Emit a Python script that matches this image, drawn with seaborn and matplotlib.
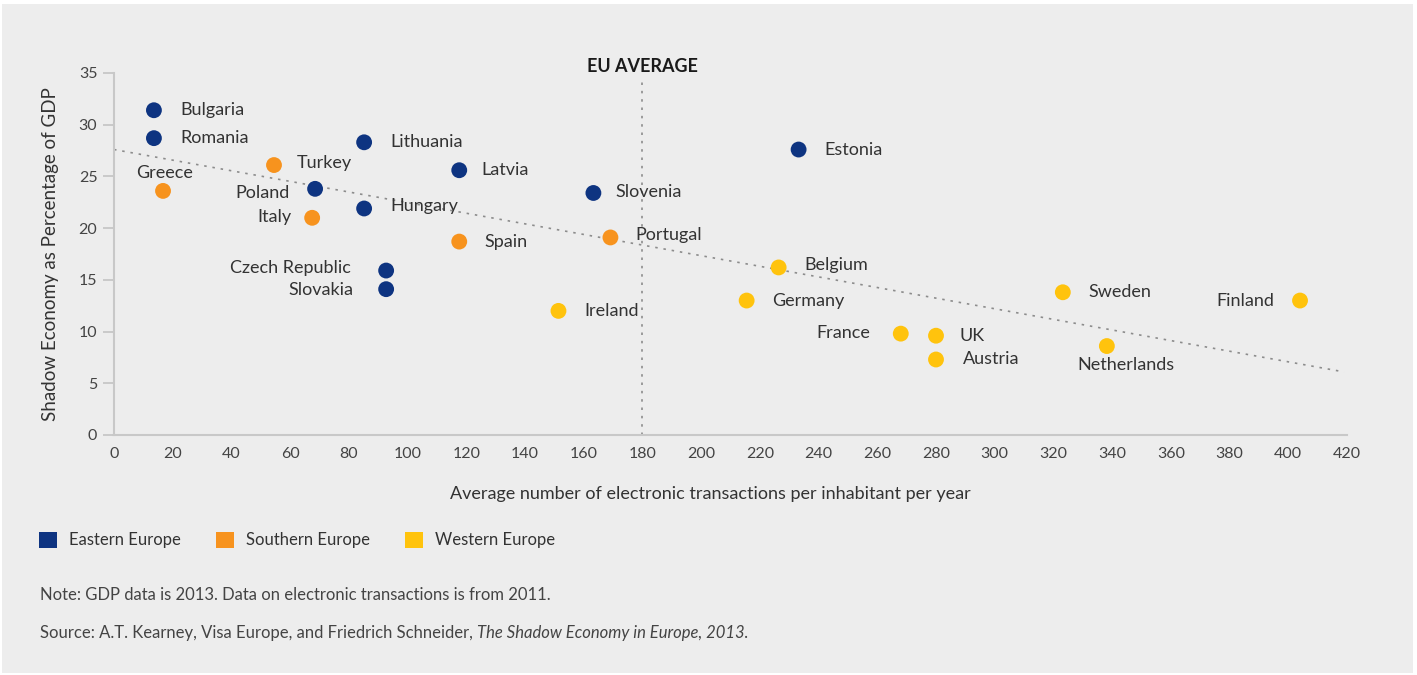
import numpy as np
import pandas as pd
import matplotlib
matplotlib.use("Agg")
import matplotlib.pyplot as plt
from matplotlib.patches import Patch, Rectangle
import seaborn as sns

# data
countries = ["Bulgaria", "Romania", "Greece", "Turkey", "Poland", "Italy",
             "Lithuania", "Hungary", "Latvia", "Spain", "Czech Republic",
             "Slovakia", "Slovenia", "Portugal", "Ireland", "Estonia",
             "Belgium", "Germany", "France", "UK", "Austria", "Sweden",
             "Netherlands", "Finland"]
transactions = [13.6, 13.6, 16.7, 54.5, 68.5, 67.5,
                85.2, 85.2, 117.6, 117.6, 92.7,
                92.7, 163.3, 169.1, 151.4, 233.2,
                226.4, 215.5, 268.0, 280.0, 280.0, 323.2,
                338.2, 404.0]
shadow_gdp = [31.4, 28.7, 23.6, 26.1, 23.8, 21.0,
              28.3, 21.9, 25.6, 18.7, 15.9,
              14.1, 23.4, 19.1, 12.0, 27.6,
              16.2, 13.0, 9.8, 9.6, 7.3, 13.8,
              8.6, 13.0]
regions = ["Eastern Europe", "Eastern Europe", "Southern Europe", "Southern Europe",
           "Eastern Europe", "Southern Europe", "Eastern Europe", "Eastern Europe",
           "Eastern Europe", "Southern Europe", "Eastern Europe", "Eastern Europe",
           "Eastern Europe", "Southern Europe", "Western Europe", "Eastern Europe",
           "Western Europe", "Western Europe", "Western Europe", "Western Europe",
           "Western Europe", "Western Europe", "Western Europe", "Western Europe"]
region_order = ["Eastern Europe", "Southern Europe", "Western Europe"]
trend_x = [0, 419]
trend_y = [27.6, 6.1]
eu_average = 180

palette = {"Eastern Europe": "#0e3481", "Southern Europe": "#f7931e",
           "Western Europe": "#ffc30d"}

# label placement (offset in pixels, alignment)
label_pos = {
    "Bulgaria": (26, 0, "left"), "Romania": (26, 0, "left"),
    "Greece": (2, 18, "center"), "Turkey": (23, 2, "left"),
    "Poland": (-25, -4, "right"), "Italy": (-21, 1, "right"),
    "Lithuania": (26, 0, "left"), "Hungary": (26, 2, "left"),
    "Latvia": (22, 0, "left"), "Spain": (25, 0, "left"),
    "Czech Republic": (-35, 3, "right"), "Slovakia": (-33, -1, "right"),
    "Slovenia": (22, 1, "left"), "Portugal": (25, 2, "left"),
    "Ireland": (26, 0, "left"), "Estonia": (26, 0, "left"),
    "Belgium": (26, 2, "left"), "Germany": (25, 0, "left"),
    "France": (-31, 1, "right"), "UK": (23, 0, "left"),
    "Austria": (27, 0, "left"), "Sweden": (26, 0, "left"),
    "Netherlands": (19, -19, "center"), "Finland": (-26, 0, "right"),
}

df = pd.DataFrame({"country": countries, "x": transactions,
                   "y": shadow_gdp, "region": regions})

sns.set_theme(style="white")
plt.rcParams["font.family"] = ["Lato", "DejaVu Sans"]
text_col = "#333333"

fig = plt.figure(figsize=(14.17, 6.75), dpi=100, facecolor="white")
fig.patches.append(Rectangle((2 / 1417, 2 / 675), 1411 / 1417, 669 / 675,
                             transform=fig.transFigure, facecolor="#ededed",
                             edgecolor="none", zorder=-5))
ax = fig.add_axes([114 / 1417, 1 - 435 / 675, 1233 / 1417, 362 / 675])
ax.set_facecolor("none")

# trend line and EU average
ax.plot(trend_x, trend_y, color="#8c8c8c", lw=1.2, ls=(0, (1.5, 3.5)), zorder=1)
ax.plot([eu_average, eu_average], [0, 34.4], color="#8c8c8c", lw=1.2,
        ls=(0, (1.5, 3.5)), zorder=1, clip_on=False)
ax.text(eu_average, 35.6, "EU AVERAGE", ha="center", va="center",
        fontsize=13, fontweight="bold", color="#1a1a1a")

sns.scatterplot(data=df, x="x", y="y", hue="region", hue_order=region_order,
                palette=palette, s=130, linewidth=0, legend=False, ax=ax,
                zorder=3)

for c, xv, yv in zip(countries, transactions, shadow_gdp):
    dx, dy, ha = label_pos[c]
    ax.annotate(c, (xv, yv), xytext=(dx, dy), textcoords="offset pixels",
                ha=ha, va="center", fontsize=13, color=text_col)

ax.set_xlim(0, 420)
ax.set_ylim(0, 35)
ax.set_xticks(np.arange(0, 421, 20))
ax.set_yticks(np.arange(0, 36, 5))
ax.tick_params(axis="x", length=0, pad=9, labelsize=11.5, labelcolor="#444444")
ax.tick_params(axis="y", length=8, width=1.2, color="#c4c4c4", pad=4,
               labelsize=11.5, labelcolor="#444444", left=True)
for side in ["top", "right"]:
    ax.spines[side].set_visible(False)
for side in ["left", "bottom"]:
    ax.spines[side].set_color("#c8c8c8")
    ax.spines[side].set_linewidth(1.5)

ax.set_xlabel("Average number of electronic transactions per inhabitant per year",
              fontsize=13, color=text_col)
ax.xaxis.set_label_coords((710 - 114) / 1233, -0.141)
ax.set_ylabel("Shadow Economy as Percentage of GDP", fontsize=13.5, color=text_col)
ax.yaxis.set_label_coords(-0.045, 0.5)

handles = [Patch(facecolor=palette[r], edgecolor="none", label=r) for r in region_order]
fig.legend(handles=handles, loc="center left", bbox_to_anchor=(39 / 1417, 1 - 540 / 675),
           ncol=3, frameon=False, fontsize=12, handlelength=1.1, handleheight=1.1,
           handletextpad=0.7, columnspacing=2.1, borderpad=0, borderaxespad=0,
           labelcolor=text_col)

fig.text(40 / 1417, 1 - 595 / 675,
         "Note: GDP data is 2013. Data on electronic transactions is from 2011.",
         fontsize=12, color="#444444", va="center")
src = fig.text(40 / 1417, 1 - 633 / 675,
               "Source: A.T. Kearney, Visa Europe, and Friedrich Schneider, ",
               fontsize=12, color="#444444", va="center")
fig.canvas.draw()
bb = src.get_window_extent()
fig.text(bb.x1 / fig.bbox.width, 1 - 633 / 675,
         "The Shadow Economy in Europe, 2013.",
         fontsize=12, color="#444444", va="center", style="italic")

fig.savefig("out.png", dpi=100, facecolor=fig.get_facecolor())
